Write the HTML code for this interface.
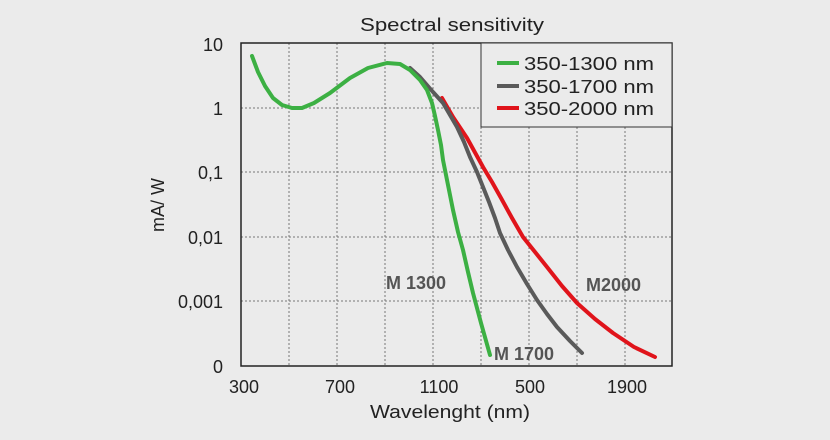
<!DOCTYPE html>
<html><head><meta charset="utf-8"><style>
html,body{margin:0;padding:0;background:#ebebeb;}
svg{display:block;font-family:"Liberation Sans","Noto Sans CJK SC",sans-serif;}
</style></head><body>
<svg width="830" height="440" viewBox="0 0 830 440">
<rect width="830" height="440" fill="#ebebeb"/>
<g stroke="#777" stroke-width="1" stroke-dasharray="2,2">
<line x1="289" y1="43" x2="289" y2="366"/><line x1="337" y1="43" x2="337" y2="366"/>
<line x1="385" y1="43" x2="385" y2="366"/><line x1="433" y1="43" x2="433" y2="366"/>
<line x1="481" y1="127" x2="481" y2="366"/><line x1="529" y1="127" x2="529" y2="366"/>
<line x1="577" y1="127" x2="577" y2="366"/><line x1="625" y1="127" x2="625" y2="366"/>
<line x1="241" y1="108" x2="481" y2="108"/><line x1="241" y1="172" x2="672" y2="172"/>
<line x1="241" y1="237" x2="672" y2="237"/><line x1="241" y1="301" x2="672" y2="301"/>
</g>
<rect x="241" y="43" width="431" height="323" fill="none" stroke="#222" stroke-width="1.5"/>
<rect x="481" y="43" width="191" height="84" fill="#ebebeb" stroke="#333" stroke-width="1"/>
<g stroke-linecap="round" stroke-linejoin="round" fill="none" stroke-width="4">
<polyline points="442,98 453,117 467,138 483,167 492,182 501,198 512,218 523,237 535,252 547,267 562,286 577,303 595,319 613,333 634,347 655,357" stroke="#e0141b"/>
<polyline points="410,68 420,77 433,92 443,103 450,115 457,127 464,142 470,157 477,172 483,187 489,202 495,218 500,233 508,250 517,267 527,284 537,300 547,314 557,327 570,341 582,353" stroke="#5a5a5a"/>
<polyline points="252,56 258,72 265,86 273,98 282,105 292,108 302,108 314,103 330,93 350,78 368,68 387,63 400,64 410,70 420,80 427,90 432,103 435,116 438,130 441,145 443,160 448,185 453,210 458,232 463,250 468,272 473,293 481,323 490,355" stroke="#3cb043"/>
</g>
<g stroke-width="4"><line x1="497" y1="63" x2="519" y2="63" stroke="#3cb043"/>
<line x1="497" y1="86" x2="519" y2="86" stroke="#5a5a5a"/>
<line x1="497" y1="108" x2="519" y2="108" stroke="#e0141b"/></g>
<g font-size="18" fill="#222">
<text x="524" y="70" textLength="130" lengthAdjust="spacingAndGlyphs">350-1300 nm</text>
<text x="524" y="93" textLength="130" lengthAdjust="spacingAndGlyphs">350-1700 nm</text>
<text x="524" y="115" textLength="130" lengthAdjust="spacingAndGlyphs">350-2000 nm</text>
<text x="360" y="31" textLength="184" lengthAdjust="spacingAndGlyphs">Spectral sensitivity</text>
<text x="370" y="418" textLength="160" lengthAdjust="spacingAndGlyphs">Wavelenght (nm)</text>
</g>
<g font-size="18" fill="#222" text-anchor="end">
<text x="223" y="51">10</text><text x="223" y="115">1</text><text x="223" y="179">0,1</text>
<text x="223" y="244">0,01</text><text x="223" y="308">0,001</text><text x="223" y="373">0</text>
</g>
<g font-size="18" fill="#222" text-anchor="middle">
<text x="244" y="393">300</text><text x="340" y="393">700</text><text x="439" y="393">1100</text>
<text x="530" y="393">500</text><text x="627" y="393">1900</text>
</g>
<text transform="translate(164,205) rotate(-90)" font-size="18" fill="#222" text-anchor="middle">mA/ W</text>
<g font-size="18" font-weight="bold" fill="#555">
<text x="386" y="289">M 1300</text><text x="494" y="360">M 1700</text><text x="586" y="291">M2000</text>
</g>
</svg>
</body></html>
